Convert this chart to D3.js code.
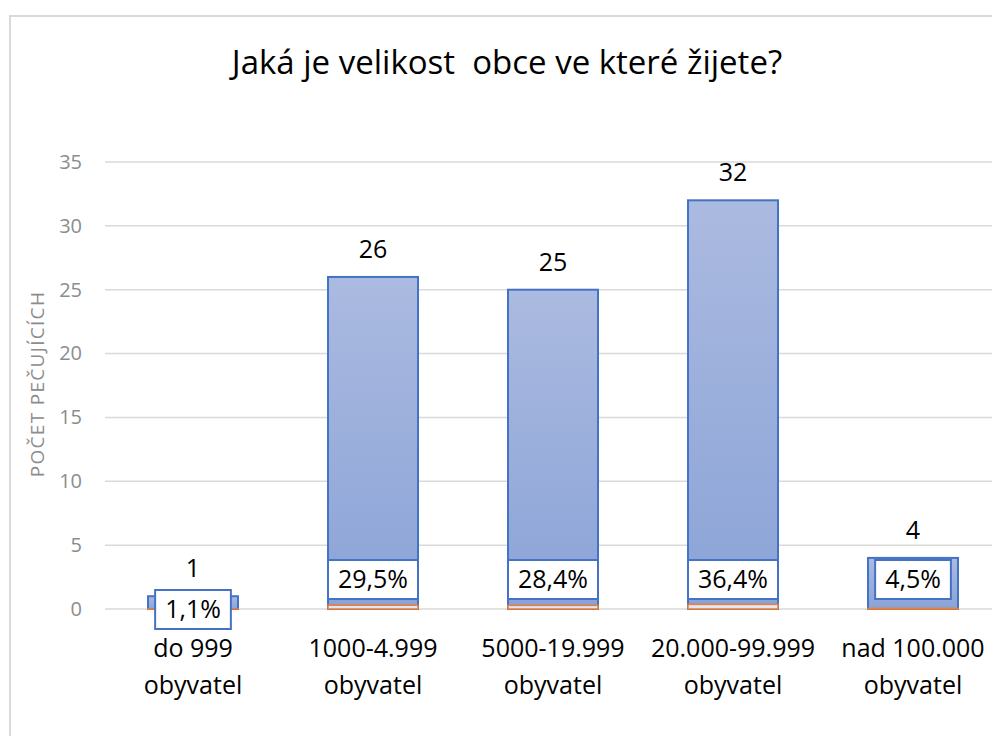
<!DOCTYPE html>
<html lang="cs">
<head>
<meta charset="UTF-8">
<script src="https://d3js.org/d3.v7.min.js"></script>
<style>
  body { margin: 0; background: #fff; }
  text { font-family: 'Open Sans', 'Noto Sans', sans-serif; }
</style>
</head>
<body>
<div id="chart"></div>
<script>
// data
const categories = [["do 999", "obyvatel"], ["1000-4.999", "obyvatel"], ["5000-19.999", "obyvatel"], ["20.000-99.999", "obyvatel"], ["nad 100.000", "obyvatel"]];
const counts = [1, 26, 25, 32, 4];
const percents = [1.1, 29.5, 28.4, 36.4, 4.5];
const yTicks = [0, 5, 10, 15, 20, 25, 30, 35];
const chartTitle = "Jaká je velikost  obce ve které žijete?";
const yTitle = "POČET PEČUJÍCÍCH";

const width = 992, height = 736;
const svg = d3.select("#chart").append("svg")
  .attr("width", width).attr("height", height);

// chart frame (right and bottom edges run off the picture)
svg.append("rect")
  .attr("x", 10).attr("y", 16)
  .attr("width", 1100).attr("height", 900)
  .attr("fill", "#fff")
  .attr("stroke", "#d9d9d9").attr("stroke-width", 2);

const x = d3.scaleBand()
  .domain(d3.range(categories.length))
  .range([103, 1003])
  .paddingInner(0.5)
  .paddingOuter(0.25);

const y = d3.scaleLinear().domain([0, 35]).range([609, 162]);

// gradient for the bars
const defs = svg.append("defs");
const grad = defs.append("linearGradient")
  .attr("id", "barGrad").attr("x1", 0).attr("y1", 0).attr("x2", 0).attr("y2", 1);
grad.append("stop").attr("offset", "0%").attr("stop-color", "#abbae0");
grad.append("stop").attr("offset", "100%").attr("stop-color", "#8aa3d7");

// gridlines + tick labels
const yAxis = d3.axisLeft(y).tickValues(yTicks).tickSize(0).tickPadding(0);
const gy = svg.append("g").attr("transform", "translate(82,0)").call(yAxis);
gy.select(".domain").remove();
gy.selectAll("text")
  .attr("fill", "#8c8c8c")
  .style("font-size", "20px");

svg.append("g").selectAll("line")
  .data(yTicks)
  .join("line")
  .attr("x1", 105).attr("x2", width)
  .attr("y1", d => y(d)).attr("y2", d => y(d))
  .attr("stroke", "#d9d9d9").attr("stroke-width", 1.5);

// title
svg.append("text")
  .attr("x", 507).attr("y", 74)
  .attr("text-anchor", "middle")
  .style("font-size", "33px")
  .style("white-space", "pre")
  .attr("fill", "#000")
  .text(chartTitle);

// y axis title
svg.append("text")
  .attr("transform", "translate(44,384) rotate(-90)")
  .attr("text-anchor", "middle")
  .attr("fill", "#8c8c8c")
  .style("font-size", "19px")
  .style("letter-spacing", "1.3px")
  .text(yTitle);

// bars
const bars = svg.append("g");
bars.selectAll("rect.bar")
  .data(counts)
  .join("rect")
  .attr("class", "bar")
  .attr("x", (d, i) => x(i))
  .attr("y", d => y(d))
  .attr("width", x.bandwidth())
  .attr("height", d => y(0) - y(d))
  .attr("fill", "url(#barGrad)")
  .attr("stroke", "#4472c4").attr("stroke-width", 2);

// small orange series at the base of each bar
bars.selectAll("rect.pct")
  .data(percents)
  .join("rect")
  .attr("class", "pct")
  .attr("x", (d, i) => x(i))
  .attr("y", d => y(d / 100))
  .attr("width", x.bandwidth())
  .attr("height", d => y(0) - y(d / 100))
  .attr("fill", "#dfe6f5")
  .attr("stroke", "#ed7d31").attr("stroke-width", 1.5);

// value labels above bars
svg.append("g").selectAll("text")
  .data(counts)
  .join("text")
  .attr("x", (d, i) => x(i) + x.bandwidth() / 2)
  .attr("y", d => y(d) - 19)
  .attr("text-anchor", "middle")
  .style("font-size", "25px")
  .attr("fill", "#000")
  .text(d => d);

// percentage label boxes
const boxH = 40;
const pctG = svg.append("g").selectAll("g")
  .data(percents)
  .join("g")
  .attr("transform", (d, i) => {
    const barH = y(0) - y(counts[i]);
    const cy = barH > boxH ? y(0) - 30 : y(0);
    return `translate(${x(i) + x.bandwidth() / 2},${cy})`;
  });

pctG.append("text")
  .attr("text-anchor", "middle")
  .attr("dy", "0.36em")
  .style("font-size", "25px")
  .attr("fill", "#000")
  .text(d => d3.format(".1f")(d).replace(".", ",") + "%");

pctG.each(function () {
  const g = d3.select(this);
  const tw = g.select("text").node().getComputedTextLength();
  const bw = Math.min(x.bandwidth(), tw + 20);
  g.insert("rect", "text")
    .attr("x", -bw / 2).attr("y", -boxH / 2 + 1)
    .attr("width", bw).attr("height", boxH - 1)
    .attr("fill", "#fff")
    .attr("stroke", "#4472c4").attr("stroke-width", 2);
});

// category labels
const cat = svg.append("g").selectAll("text")
  .data(categories)
  .join("text")
  .attr("x", (d, i) => x(i) + x.bandwidth() / 2)
  .attr("y", 657)
  .attr("text-anchor", "middle")
  .style("font-size", "25px")
  .attr("fill", "#000");
cat.selectAll("tspan")
  .data(d => d)
  .join("tspan")
  .attr("x", function () { return d3.select(this.parentNode).attr("x"); })
  .attr("dy", (d, j) => j === 0 ? 0 : 37)
  .text(d => d);
</script>
</body>
</html>
